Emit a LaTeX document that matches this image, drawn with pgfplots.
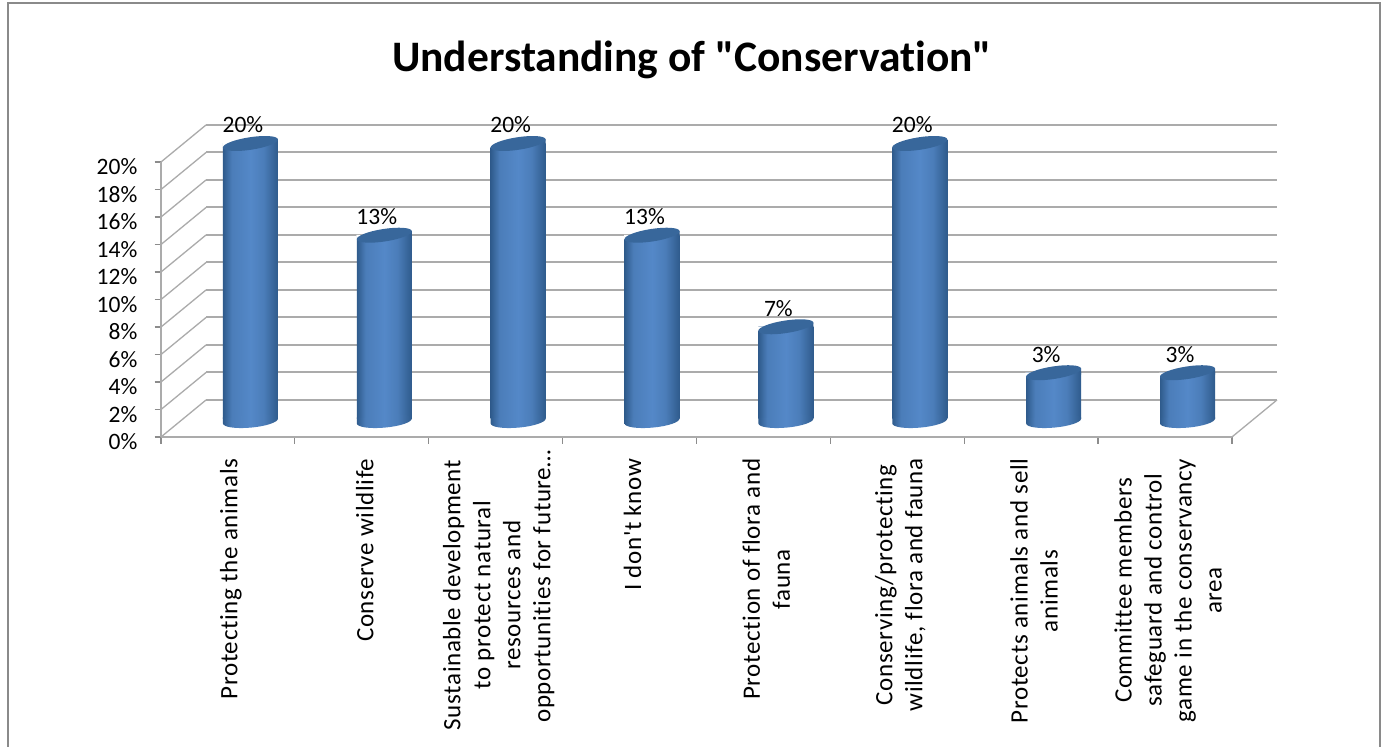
\documentclass[border=0pt]{standalone}
\usepackage{pgfplots}
\pgfplotsset{compat=1.18}
\usepackage{fontspec}
\setmainfont{Carlito}[Ligatures={TeXOff,NoCommon}]
\definecolor{gridgray}{HTML}{ABABAB}
\definecolor{tickgray}{HTML}{8C8C8C}
\definecolor{framegray}{HTML}{8A8A8A}
\definecolor{capblue}{HTML}{38679B}
\definecolor{edgeblue}{HTML}{2F5B8C}
\definecolor{midblue}{HTML}{4B7DB9}
\definecolor{litblue}{HTML}{5488C8}
% Horizontal shading that gives the columns their rounded look
\pgfdeclarehorizontalshading{cyl}{100bp}{
  color(0bp)=(edgeblue); color(25bp)=(edgeblue); color(33bp)=(midblue);
  color(50bp)=(litblue); color(62bp)=(midblue); color(75bp)=(edgeblue); color(100bp)=(edgeblue)}
% Top of a column: trims the square corner, closes the other side, then lays the tilted lid
\pgfdeclareplotmark{captop}{%
  \pgfpathmoveto{\pgfqpoint{-28pt}{-4.2pt}}%
  \pgfpathlineto{\pgfqpoint{-28pt}{0.3pt}}%
  \pgfpathlineto{\pgfqpoint{-19pt}{0.3pt}}%
  \pgfpathclose
  \pgfsetfillcolor{white}\pgfusepathqfill
  \pgfpathmoveto{\pgfqpoint{-27.5pt}{-4.2pt}}%
  \pgfpathlineto{\pgfqpoint{27.5pt}{4.2pt}}%
  \pgfpathlineto{\pgfqpoint{27.5pt}{-2pt}}%
  \pgfpathlineto{\pgfqpoint{-27.5pt}{-4.2pt}}%
  \pgfpathclose
  \pgfshadepath{cyl}{0}\pgfusepath{discard}%
  \pgfpathellipse{\pgfpointorigin}{\pgfqpoint{27.5pt}{4.2pt}}{\pgfqpoint{-1pt}{6.2pt}}%
  \pgfsetfillcolor{capblue}\pgfusepathqfill}
% Foot of a column: rounded underside, joined to the square end of the bar
\pgfdeclareplotmark{capfoot}{%
  \pgfpathellipse{\pgfqpoint{0pt}{-2.5pt}}{\pgfqpoint{27.5pt}{2.5pt}}{\pgfqpoint{-0.6pt}{6.6pt}}%
  \pgfpathmoveto{\pgfqpoint{-27.5pt}{-5pt}}%
  \pgfpathlineto{\pgfqpoint{27.5pt}{0pt}}%
  \pgfpathlineto{\pgfqpoint{27.5pt}{1pt}}%
  \pgfpathlineto{\pgfqpoint{-27.5pt}{1pt}}%
  \pgfpathclose
  \pgfshadepath{cyl}{0}\pgfusepath{discard}}
\pgfplotsset{
  plane/.style={scale only axis,width=1071pt,height=275pt,
    xmin=0,xmax=8,ymin=0,ymax=20,clip=false},
  column/.style={ybar,bar width=55pt,bar shift=0pt,draw=none,shading=cyl,forget plot},
  /pgf/number format/assume math mode=true}
\begin{document}
\begin{tikzpicture}[x=1pt,y=1pt]
\path[use as bounding box] (0,0) rectangle (1387,747);
\fill[white] (0,0) rectangle (1387,747);
\draw[framegray,line width=2pt] (8,-3) -- (8,744) -- (1380,744) -- (1380,-3);
\node[font=\fontsize{43.5}{48}\selectfont\bfseries,anchor=center] at (692,687)
  {Understanding of "Conservation"};

% Back wall with its horizontal grid
\begin{axis}[plane,at={(206pt,347pt)},
  axis line style={draw=none},xtick=\empty,ytick={0,2,...,20},yticklabels={},
  major tick length=0pt,tick style={draw=none},
  ymajorgrids,major grid style={gridgray,line width=2pt}]
\end{axis}

% Front plane: value axis, category ticks and rotated category names
\begin{axis}[plane,at={(161pt,310pt)},
  axis x line=bottom,axis y line=left,
  axis line style={gridgray,line width=2pt,-},
  xtick={0,1,...,8},xticklabels={},
  ytick={0,2,...,20},
  yticklabel={\pgfmathprintnumber{\tick}\%},
  tick align=outside,tick pos=lower,major tick length=6.5pt,
  tick style={tickgray,line width=1.2pt},
  y tick label style={font=\fontsize{23.5}{28}\selectfont,xshift=-15pt,yshift=-5pt,inner sep=2pt},
  extra x ticks={0.5,1.5,...,7.5},
  extra x tick style={major tick length=0pt,tick style={draw=none},
    xticklabel style={rotate=90,anchor=east,align=center,inner sep=0pt,
      font=\fontsize{25}{30}\selectfont\addfontfeatures{LetterSpace=2.6},xshift=-21.5pt,yshift=-3pt}},
  extra x tick labels={
    {Protecting the animals},
    {Conserve wildlife},
    {Sustainable development\\to protect natural\\resources and\\\hspace*{9pt}opportunities for future…\hspace*{-9pt}},
    {I don't know},
    {Protection of flora and\\fauna},
    {Conserving/protecting\\wildlife, flora and fauna},
    {Protects animals and sell\\animals},
    {Committee members\\safeguard and control\\game in the conservancy\\area}}]
% Slanted rules joining the front plane to the back wall, and the floor's right edge
\pgfplotsinvokeforeach{0,2,...,20}{
  \draw[gridgray,line width=1.3pt] (axis cs:0,#1) -- ++(45pt,37pt);}
\draw[gridgray,line width=1.3pt] (axis cs:8,0) -- ++(45pt,37pt);
\end{axis}

% Middle plane: the columns and their value labels
\begin{axis}[plane,at={(183.5pt,328.5pt)},
  axis line style={draw=none},xtick=\empty,ytick=\empty]
\addplot[column] coordinates {(0.5,20)};
\addplot[column] coordinates {(1.5,13.33)};
\addplot[column] coordinates {(2.5,20)};
\addplot[column] coordinates {(3.5,13.33)};
\addplot[column] coordinates {(4.5,6.67)};
\addplot[column] coordinates {(5.5,20)};
\addplot[column] coordinates {(6.5,3.33)};
\addplot[column] coordinates {(7.5,3.33)};
\addplot[only marks,mark=capfoot] coordinates
  {(0.5,0) (1.5,0) (2.5,0) (3.5,0) (4.5,0) (5.5,0) (6.5,0) (7.5,0)};
\addplot[only marks,mark=captop,point meta=y,
  nodes near coords={\pgfmathprintnumber[fixed,precision=0]{\pgfplotspointmeta}\%},
  every node near coord/.append style={anchor=center,xshift=-7.5pt,yshift=18.5pt,
    inner sep=0pt,text=black,font=\fontsize{23.5}{28}\selectfont}] coordinates
  {(0.5,20) (1.5,13.33) (2.5,20) (3.5,13.33) (4.5,6.67) (5.5,20) (6.5,3.33) (7.5,3.33)};
\end{axis}
\end{tikzpicture}
\end{document}
